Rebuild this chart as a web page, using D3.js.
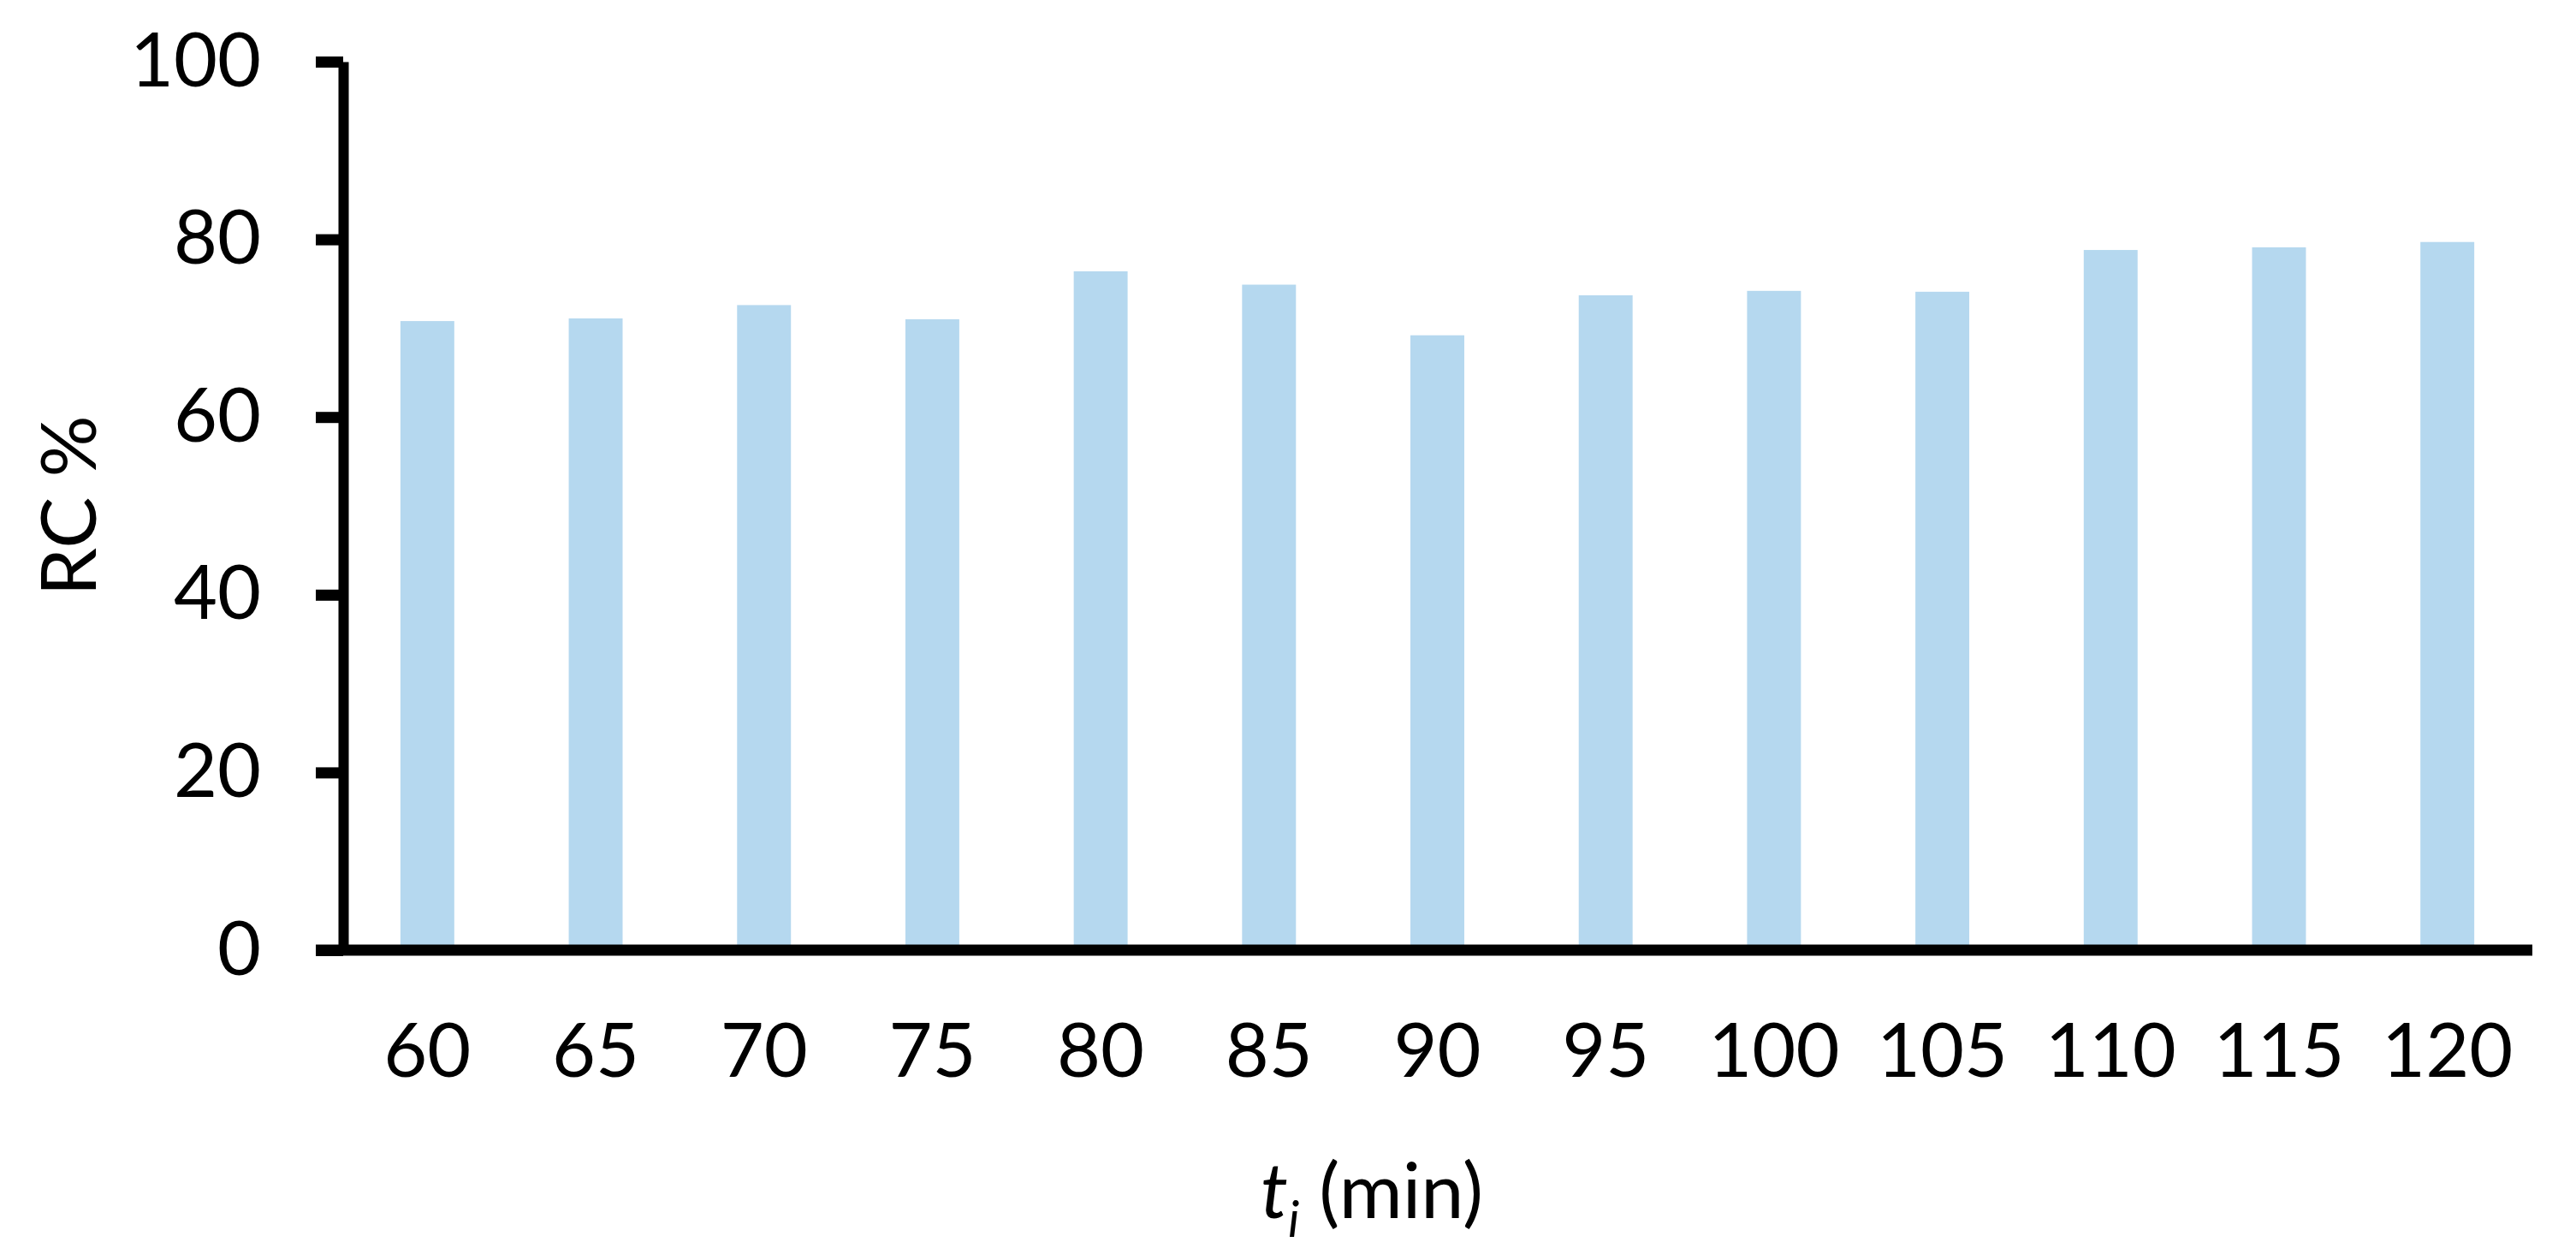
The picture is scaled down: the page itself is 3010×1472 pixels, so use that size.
<!DOCTYPE html>
<html>
<head>
<meta charset="utf-8">
<script src="https://cdn.jsdelivr.net/npm/d3@7"></script>
<style>
	body { margin: 0; background: #fff; }
	svg { display: block; }
	text { font-family: Lato, "Open Sans", sans-serif; fill: #000; }
</style>
</head>
<body>
<div id="chart"></div>
<script>
// values
var categories = ["60", "65", "70", "75", "80", "85", "90", "95", "100", "105", "110", "115", "120"];
var rcValues = [70.8, 71.1, 72.6, 71.0, 76.4, 74.9, 69.2, 73.7, 74.2, 74.1, 78.8, 79.1, 79.7];
var yTicks = [0, 20, 40, 60, 80, 100];

var width = 3010, height = 1472;
var plot = {left: 401, right: 2958, top: 72, bottom: 1110};
var fontSize = 88;

var svg = d3.select("#chart").append("svg")
	.attr("width", width)
	.attr("height", height);

var x = d3.scaleBand()
	.domain(categories)
	.range([plot.left, plot.right])
	.paddingInner(0.68)
	.paddingOuter(0.34);

var y = d3.scaleLinear()
	.domain([0, 100])
	.range([plot.bottom, plot.top]);

var data = categories.map(function(c, i) { return {name: c, value: rcValues[i]}; });

// bars
svg.selectAll(".bar")
	.data(data)
	.enter().append("rect")
	.attr("class", "bar")
	.attr("x", function(d) { return x(d.name); })
	.attr("width", x.bandwidth())
	.attr("y", function(d) { return y(d.value); })
	.attr("height", function(d) { return y(0) - y(d.value); })
	.attr("fill", "#b5d8ef");

// y axis
var yAxis = d3.axisLeft(y)
	.tickValues(yTicks)
	.tickSize(32)
	.tickSizeOuter(0)
	.tickPadding(64);

var gy = svg.append("g")
	.attr("class", "y axis")
	.attr("transform", "translate(" + plot.left + ",0)")
	.call(yAxis);
gy.select(".domain").attr("stroke", "#000").attr("stroke-width", 12);
gy.selectAll(".tick line").attr("stroke", "#000").attr("stroke-width", 13);
gy.selectAll(".tick text")
	.attr("font-size", fontSize)
	.attr("font-family", "Lato, 'Open Sans', sans-serif");

// x axis
var xAxis = d3.axisBottom(x)
	.tickSize(0)
	.tickPadding(86);

var gx = svg.append("g")
	.attr("class", "x axis")
	.attr("transform", "translate(0," + y(0) + ")")
	.call(xAxis);
gx.select(".domain").remove();
gx.selectAll(".tick text")
	.attr("font-size", fontSize)
	.attr("font-family", "Lato, 'Open Sans', sans-serif");

gx.append("line")
	.attr("x1", plot.left - 32)
	.attr("x2", plot.right + 1)
	.attr("y1", 0)
	.attr("y2", 0)
	.attr("stroke", "#000")
	.attr("stroke-width", 13);

// axis titles
svg.append("text")
	.attr("transform", "translate(112," + ((plot.top + plot.bottom) / 2) + ") rotate(-90)")
	.attr("text-anchor", "middle")
	.attr("font-size", 90)
	.text("RC %");

var xt = svg.append("text")
	.attr("x", 1603)
	.attr("y", 1423)
	.attr("text-anchor", "middle")
	.attr("font-size", 90);
xt.append("tspan").attr("font-style", "italic").text("t");
xt.append("tspan").attr("font-style", "italic").attr("font-size", 58).attr("dy", 22).text("i");
xt.append("tspan").attr("dy", -22).text(" (min)");
</script>
</body>
</html>
